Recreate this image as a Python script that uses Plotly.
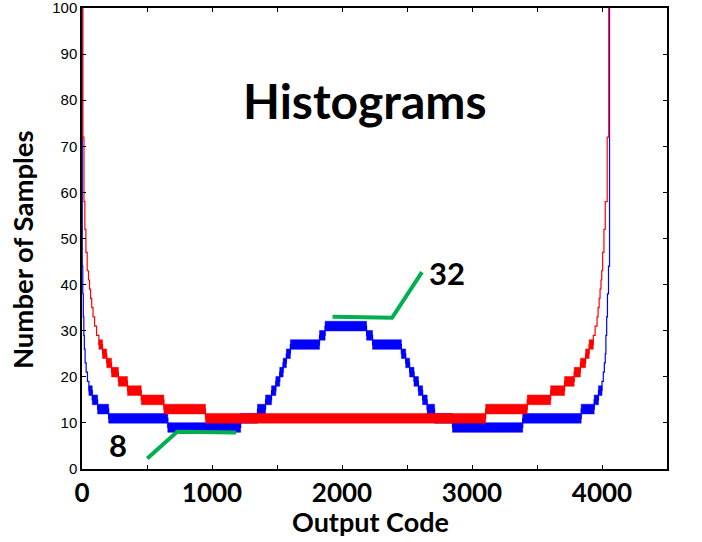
import plotly.graph_objects as go

# ---------------- data ----------------
# Output code at which each count level starts, and the level (number of samples)
blue_code = [0, 2, 6, 10, 14, 18, 24, 32, 42, 53, 79, 120, 205, 660, 1220, 1350, 1412, 1458,
             1491, 1521, 1547, 1572, 1603, 1827, 1870, 2189, 2235, 2457, 2490, 2520, 2554,
             2588, 2620, 2655, 2712, 2850, 3390, 3840, 3940, 3973, 4000, 4010, 4018, 4025,
             4030, 4036, 4042, 4050, 4058, 4095]
blue_count = [150, 44, 38, 33, 29, 26, 23, 21, 19, 17, 15, 13, 11, 9, 11, 13, 15, 17, 19, 21,
              23, 25, 27, 29, 31, 29, 27, 25, 23, 21, 19, 17, 15, 13, 11, 9, 11, 13, 15, 17,
              19, 21, 23, 25, 29, 33, 38, 44, 150, 150]

red_code = [0, 7, 15, 22, 30, 40, 50, 58, 66, 75, 85, 97, 112, 130, 158, 190, 227, 280, 350,
            456, 630, 950, 3105, 3425, 3605, 3712, 3786, 3834, 3874, 3901, 3933, 3947, 3962,
            3970, 3978, 3985, 3992, 3998, 4005, 4015, 4025, 4040, 4052, 4095]
red_count = [150, 72, 58, 52, 47, 43, 41, 39, 37, 35, 33, 31, 29, 27, 25, 23, 21, 19, 17, 15,
             13, 11, 13, 15, 17, 19, 21, 23, 25, 27, 29, 31, 33, 35, 37, 39, 41, 43, 47, 52,
             58, 72, 150, 150]

# green callout lines and their labels
callout32_x = [1927, 2385, 2615]
callout32_y = [33.0, 32.8, 42.7]
callout8_x = [502, 732, 1185]
callout8_y = [2.3, 8.1, 7.9]

x_tick_vals = [0, 500, 1000, 1500, 2000, 2500, 3000, 3500, 4000, 4500]
x_tick_text = ["0", "", "1000", "", "2000", "", "3000", "", "4000", ""]
y_tick_vals = [0, 10, 20, 30, 40, 50, 60, 70, 80, 90, 100]

BLUE = "#0000ff"
RED = "#ff0000"
GREEN = "#00b050"
TXT = "Lato, 'Open Sans', sans-serif"


def band_polys(codes, counts, min_len=20, max_level=32, half=1.05):
    """Noisy plateaus (count alternating around the level) drawn as bands."""
    xs, ys = [], []
    for i in range(len(codes) - 1):
        s, e, lv = codes[i], codes[i + 1], counts[i]
        if e - s >= min_len and lv <= max_level:
            xs += [s, e, e, s, s, None]
            ys += [lv - half, lv - half, lv + half, lv + half, lv - half, None]
    return xs, ys


fig = go.Figure()

for codes, counts, col in [(blue_code, blue_count, BLUE), (red_code, red_count, RED)]:
    fig.add_trace(go.Scatter(x=codes, y=counts, mode="lines",
                             line=dict(color=col, width=1.2, shape="hv"),
                             hoverinfo="skip", showlegend=False))
    bx, by = band_polys(codes, counts)
    fig.add_trace(go.Scatter(x=bx, y=by, mode="lines", fill="toself", fillcolor=col,
                             line=dict(color=col, width=0.5),
                             hoverinfo="skip", showlegend=False))

for cx, cy in [(callout32_x, callout32_y), (callout8_x, callout8_y)]:
    fig.add_trace(go.Scatter(x=cx, y=cy, mode="lines",
                             line=dict(color=GREEN, width=4),
                             hoverinfo="skip", showlegend=False))

fig.add_annotation(x=2179, y=80, text="Histograms", showarrow=False,
                   font=dict(family=TXT, size=48, color="black", weight="bold"))
fig.add_annotation(x=2810, y=42.5, text="32", showarrow=False,
                   font=dict(family=TXT, size=31, color="black", weight="bold"))
fig.add_annotation(x=279, y=5.2, text="8", showarrow=False,
                   font=dict(family=TXT, size=31, color="black", weight="bold"))

# axis titles
fig.add_annotation(xref="paper", yref="paper", x=-0.1026, y=0.477,
                   text="Number of Samples", textangle=-90, showarrow=False,
                   xanchor="center", yanchor="middle",
                   font=dict(family=TXT, size=27.5, color="black", weight="bold"))
fig.add_annotation(xref="paper", yref="paper", x=0.494, y=-0.1128,
                   text="Output Code", showarrow=False,
                   xanchor="center", yanchor="middle",
                   font=dict(family=TXT, size=27, color="black", weight="bold"))

fig.update_layout(
    width=702, height=542,
    margin=dict(l=82, r=35, t=8, b=73, autoexpand=False),
    paper_bgcolor="white", plot_bgcolor="white",
    showlegend=False,
)
fig.update_xaxes(
    range=[0, 4500], tickvals=x_tick_vals, ticktext=x_tick_text, automargin=False,
    ticks="inside", ticklen=4, tickwidth=1.2, tickcolor="black",
    showline=True, linecolor="black", linewidth=1.5, mirror="ticks",
    showgrid=False, zeroline=False,
    tickfont=dict(family=TXT, size=26, color="black", weight="bold"),
)
fig.update_yaxes(
    range=[0, 100], tickvals=y_tick_vals, automargin=False,
    ticklabeloverflow="allow",
    ticks="inside", ticklen=4, tickwidth=1.2, tickcolor="black",
    showline=True, linecolor="black", linewidth=1.5, mirror="ticks",
    showgrid=False, zeroline=False,
    tickfont=dict(family="'Liberation Sans Narrow', 'Arial Narrow', 'Liberation Sans', sans-serif",
                  size=15, color="black"),
)

fig.write_html(
    "out.html",
    config={"displayModeBar": False},
    post_script="document.body.style.margin='0';document.body.style.overflow='hidden';",
)
